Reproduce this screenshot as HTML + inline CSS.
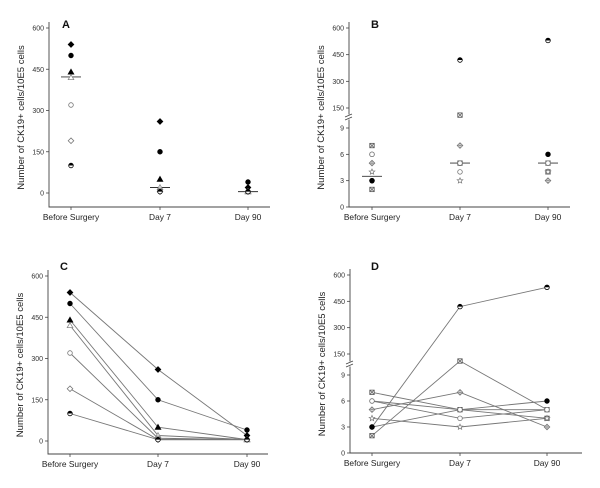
<!DOCTYPE html>
<html><head><meta charset="utf-8"><style>
body{margin:0;background:#fff;}
svg{display:block;font-family:"Liberation Sans",sans-serif;}
</style></head><body>
<svg id="c" width="600" height="488" viewBox="0 0 600 488"></svg>
<script>
const categories=["Before Surgery","Day 7","Day 90"];
const groupAValues=[[540,260,20],[500,150,40],[440,50,5],[420,20,5],[320,10,5],[190,5,5],[100,5,5]];
const groupAMarkers=["fdiamond","fcircle","ftri","otri","ocircle","odiamond","half"];
const groupAMedian=[422,20,5];
const groupBValues=[[3,420,530],[2,110,5],[7,5,4],[6,4,5],[5,7,3],[4,3,4],[3,5,6],[6,5,5]];
const groupBMarkers=["half","xsq","xsq","ocircle","plusd","star","fcircle","ocircle"];
const groupBMedian=[3.5,5,5];
const linearTicks=[0,150,300,450,600];
const lowTicks=[0,3,6,9];
const highTicks=[150,300,450,600];

const svg=document.getElementById('c');
const NS="http://www.w3.org/2000/svg";
function el(t,a,p){const e=document.createElementNS(NS,t);for(const k in a)e.setAttribute(k,a[k]);(p||svg).appendChild(e);return e;}

function marker(g,type,x,y){
  const s=2.3;let e;
  if(type==="fcircle"||type==="ocircle"||type==="half"){
    e=el('circle',{cx:x,cy:y,r:s,fill:type==="fcircle"?"#000":"#fff",stroke:type==="ocircle"?"#777":"#000","stroke-width":0.8},g);
    if(type==="half")el('path',{d:`M${x-s},${y}A${s},${s} 0 0 1 ${x+s},${y}Z`,fill:"#000"},g);
  }else if(type==="fdiamond"||type==="odiamond"||type==="plusd"){
    e=el('polygon',{points:`${x},${y-2.8} ${x+2.8},${y} ${x},${y+2.8} ${x-2.8},${y}`,fill:type==="fdiamond"?"#000":"#fff",stroke:type==="fdiamond"?"#000":"#777","stroke-width":0.8},g);
    if(type==="plusd")el('path',{d:`M${x-2.6},${y}H${x+2.6}M${x},${y-2.6}V${y+2.6}`,stroke:"#777","stroke-width":0.7},g);
  }else if(type==="ftri"||type==="otri"){
    e=el('polygon',{points:`${x},${y-2.8} ${x+2.8},${y+2.1} ${x-2.8},${y+2.1}`,fill:type==="ftri"?"#000":"#fff",stroke:type==="ftri"?"#000":"#888","stroke-width":0.8},g);
  }else if(type==="xsq"){
    e=el('rect',{x:x-2.2,y:y-2.2,width:4.4,height:4.4,fill:"#fff",stroke:"#555","stroke-width":0.8},g);
    el('path',{d:`M${x-2.2},${y-2.2}L${x+2.2},${y+2.2}M${x+2.2},${y-2.2}L${x-2.2},${y+2.2}`,stroke:"#555","stroke-width":0.7},g);
  }else if(type==="star"){
    let pts=[];for(let i=0;i<10;i++){const r=i%2?1.3:2.9,a=-Math.PI/2+i*Math.PI/5;pts.push((x+r*Math.cos(a)).toFixed(1)+","+(y+r*Math.sin(a)).toFixed(1));}
    e=el('polygon',{points:pts.join(" "),fill:"#fff",stroke:"#777","stroke-width":0.7},g);
  }
  
  
}

function panel(cfg){
  const g=el('g',{});
  
  
  const {x0,x1,yBot,cats}=cfg;
  const ax=el('path',{d:`M${x0},${cfg.yTop-6}V${yBot}H${x1}`,fill:"none",stroke:"#444","stroke-width":0.9},g);
  
  
  cfg.ticks.forEach(t=>{
    const y=cfg.y(t.v);
    el('line',{x1:x0-3,x2:x0,y1:y,y2:y,stroke:"#444","stroke-width":0.8},g);
    const tx=el('text',{x:x0-5,y:y+2.5,"font-size":7,"text-anchor":"end",fill:"#333"},g);
    tx.textContent=t.v;
    
    
  });
  if(cfg.brk!==undefined){
    el('rect',{x:x0-4,y:cfg.brk-2.5,width:8,height:5,fill:"#fff"},g);
    el('path',{d:`M${x0-4},${cfg.brk}l7,-3M${x0-4},${cfg.brk+3}l7,-3`,stroke:"#444","stroke-width":0.8},g);
  }
  categories.forEach((c,i)=>{
    el('line',{x1:cats[i],x2:cats[i],y1:yBot,y2:yBot+3,stroke:"#444","stroke-width":0.8},g);
    const tx=el('text',{x:cats[i],y:yBot+13,"font-size":8.4,"text-anchor":"middle",fill:"#222"},g);
    tx.textContent=c;
    
    
  });
  const yt=el('text',{x:0,y:0,"font-size":9.5,"text-anchor":"middle",fill:"#222",transform:`translate(${x0-25},${(cfg.yTop+yBot)/2}) rotate(-90)`},g);
  yt.textContent="Number of CK19+ cells/10E5 cells";
  
  
  const lt=el('text',{x:cfg.lx,y:cfg.ly,"font-size":11,"font-weight":"bold",fill:"#111"},g);
  lt.textContent=cfg.label;
  
  
  const vals=cfg.values;
  if(cfg.lines){
    vals.forEach(v=>{
      const p=el('polyline',{points:v.map((d,i)=>cats[i]+","+cfg.y(d)).join(" "),fill:"none",stroke:"#777","stroke-width":0.9},g);
      
      
    });
  }
  if(cfg.median){
    cfg.median.forEach((m,i)=>{
      const y=cfg.y(m);
      const l=el('line',{x1:cats[i]-10,x2:cats[i]+10,y1:y,y2:y,stroke:"#333","stroke-width":0.9},g);
      
      
    });
  }
  vals.forEach((v,k)=>v.forEach((d,i)=>marker(g,cfg.markers[k],cats[i],cfg.y(d))));
}

function linY(top,bot){return v=>bot-(v/600)*(bot-top);}
function brokenY(top,y150,y9,bot){return v=>v<=12?bot-v*(bot-y9)/9:y150-(v-150)*(y150-top)/450;}

panel({label:"A",x0:49,x1:270,yTop:28,yBot:207,cats:[71,160,248],lx:62,ly:28,
  ticks:linearTicks.map(v=>({v})),y:linY(28,193),values:groupAValues,markers:groupAMarkers,median:groupAMedian});
panel({label:"B",x0:349,x1:570,yTop:28,yBot:207,cats:[372,460,548],lx:371,ly:28,brk:117,
  ticks:lowTicks.concat(highTicks).map(v=>({v})),y:brokenY(28,108,128,207),values:groupBValues,markers:groupBMarkers,median:groupBMedian});
panel({label:"C",x0:48,x1:268,yTop:276,yBot:454,cats:[70,158,247],lx:60,ly:270,lines:true,
  ticks:linearTicks.map(v=>({v})),y:linY(276,441),values:groupAValues,markers:groupAMarkers});
panel({label:"D",x0:350,x1:582,yTop:275,yBot:453,cats:[372,460,547],lx:371,ly:270,brk:364,lines:true,
  ticks:lowTicks.concat(highTicks).map(v=>({v})),y:brokenY(275,354,375,453),values:groupBValues,markers:groupBMarkers});
</script>
</body></html>
